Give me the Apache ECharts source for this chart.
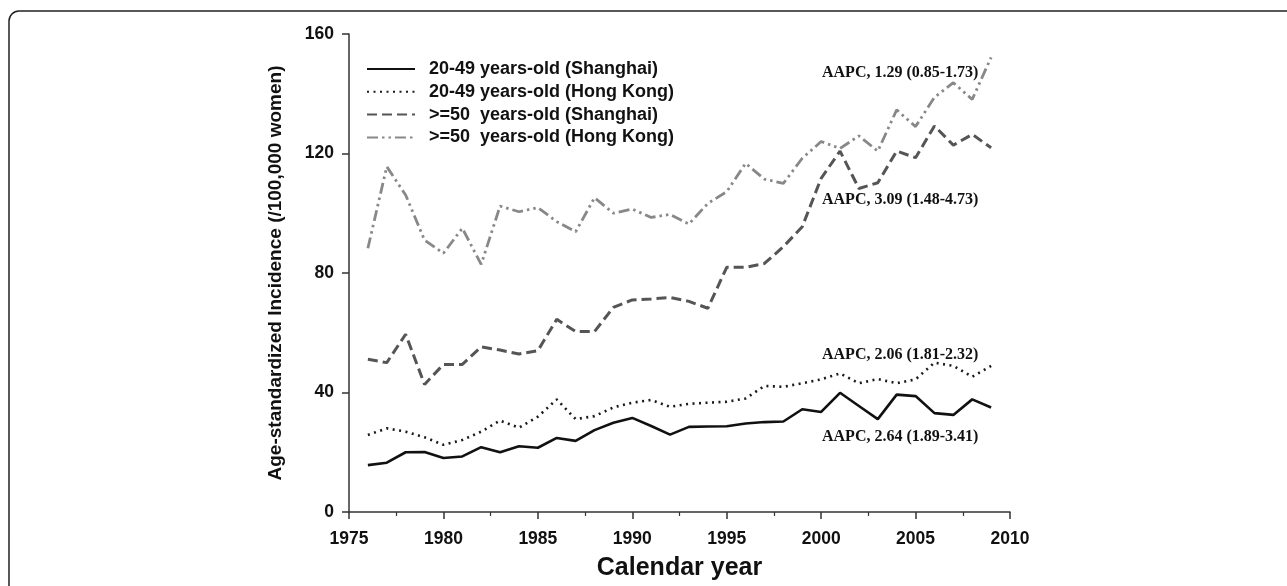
<!DOCTYPE html>
<html>
<head>
<meta charset="utf-8">
<script src="https://cdn.jsdelivr.net/npm/echarts@6/dist/echarts.min.js"></script>
<style>
html,body{margin:0;padding:0;background:#fff;}
#chart{width:1287px;height:586px;}
</style>
</head>
<body>
<div id="chart"></div>
<script>
var years = [1976,1977,1978,1979,1980,1981,1982,1983,1984,1985,1986,1987,1988,1989,1990,1991,1992,1993,1994,1995,1996,1997,1998,1999,2000,2001,2002,2003,2004,2005,2006,2007,2008,2009];
var young_SH = [15.7,16.5,20.0,20.1,18.1,18.6,21.7,20.0,22.0,21.5,24.8,23.8,27.4,29.9,31.5,28.8,25.9,28.5,28.6,28.7,29.6,30.1,30.3,34.4,33.5,39.9,35.5,31.1,39.3,38.8,33.1,32.5,37.7,35.0];
var young_HK = [25.8,28.0,26.9,25.0,22.5,24.1,26.9,30.6,28.2,31.9,37.7,31.1,32.1,35.0,36.6,37.5,35.2,36.2,36.6,36.9,38.0,42.2,41.9,43.1,44.4,46.4,43.1,44.5,43.1,44.4,50.0,48.9,45.3,48.9];
var old_SH = [51.1,50.0,59.5,42.7,49.4,49.4,55.3,54.2,52.9,54.0,64.5,60.4,60.4,68.5,71.0,71.3,71.8,70.5,68.2,81.9,81.9,83.2,88.8,95.5,111.7,120.8,108.3,110.2,120.8,118.6,129.2,122.8,126.4,121.9];
var old_HK = [88.3,115.6,106.1,91.0,86.6,95.0,82.9,102.4,100.5,101.9,97.2,93.8,105.2,100.0,101.4,98.6,99.6,96.4,103.3,107.2,116.7,111.4,110.0,118.4,124.0,121.7,125.9,120.8,134.6,129.0,138.8,143.7,138.1,152.2];
var seriesNames = ['20-49 years-old (Shanghai)','20-49 years-old (Hong Kong)','>=50  years-old (Shanghai)','>=50  years-old (Hong Kong)'];
var aapcLabels = ['AAPC, 1.29 (0.85-1.73)','AAPC, 3.09 (1.48-4.73)','AAPC, 2.06 (1.81-2.32)','AAPC, 2.64 (1.89-3.41)'];
var yTicks = [0,40,80,120,160];
var xTicks = [1975,1980,1985,1990,1995,2000,2005,2010];

function pairs(vals){ return years.map(function(y,i){ return [y, vals[i]]; }); }

var chart = echarts.init(document.getElementById('chart'), null, {renderer:'canvas'});
var styles = [
  {color:'#111111', width:2.6, type:'solid'},
  {color:'#1a1a1a', width:2.6, type:[2,4.5]},
  {color:'#555555', width:3, type:[10,5]},
  {color:'#888888', width:2.8, type:[11,4,2.5,4,2.5,4]}
];
var dataSets = [young_SH, young_HK, old_SH, old_HK];
var series = dataSets.map(function(d,i){
  return {
    name: seriesNames[i], type:'line', data: pairs(d), symbol:'none', showSymbol:false,
    lineStyle:{color:styles[i].color, width:styles[i].width, type:styles[i].type},
    itemStyle:{color:styles[i].color}, z: 4-i, silent:true, animation:false
  };
});
var SANS = '"Liberation Sans",Arial,sans-serif';
var txt = {fontFamily:'"Liberation Serif","Times New Roman",serif', fontWeight:'bold', fontSize:16, fill:'#111', verticalAlign:'middle', align:'left'};
var annPos = [[822,73],[822,200],[822,355],[822,437]];
var graphics = [{type:'rect', shape:{x:9, y:11, width:1400, height:800, r:10}, style:{fill:'none', stroke:'#222', lineWidth:1.5}, silent:true, z:-10}];
aapcLabels.forEach(function(t,i){
  graphics.push({type:'text', x:annPos[i][0], y:annPos[i][1], style:Object.assign({text:t}, txt), silent:true});
});

chart.setOption({
  animation:false,
  backgroundColor:'#fff',
  grid:{left:349, right:277, top:34, bottom:74, containLabel:false, outerBoundsMode:'none'},
  legend:{
    show:true, orient:'vertical', left:361, top:55, itemWidth:48, itemHeight:14, itemGap:4.8,
    data: seriesNames,
    itemStyle:{opacity:0},
    textStyle:{fontFamily:SANS, fontWeight:'bold', fontSize:18, lineHeight:18, color:'#111', padding:[0,0,0,9]},
    selectedMode:false
  },
  xAxis:{
    type:'value', min:1975, max:2010, interval:5,
    name:'Calendar year', nameLocation:'middle', nameGap:44,
    nameTextStyle:{fontFamily:SANS, fontWeight:'bold', fontSize:25, color:'#111'},
    axisLine:{show:true, lineStyle:{color:'#333', width:1.5}},
    axisTick:{show:true, length:7, inside:false, lineStyle:{color:'#333', width:1.5}},
    minorTick:{show:true, splitNumber:2, length:4, lineStyle:{color:'#333', width:1.2}},
    axisLabel:{margin:18, fontFamily:SANS, fontWeight:'bold', fontSize:17.5, color:'#111', formatter:function(v){return String(v);}},
    splitLine:{show:false}
  },
  yAxis:{
    type:'value', min:0, max:160, interval:40,
    name:'Age-standardized Incidence (/100,000 women)', nameLocation:'middle', nameGap:64,
    nameTextStyle:{fontFamily:SANS, fontWeight:'bold', fontSize:19, color:'#111'},
    axisLine:{show:true, lineStyle:{color:'#333', width:1.5}},
    axisTick:{show:true, length:7, inside:false, lineStyle:{color:'#333', width:1.5}},
    axisLabel:{margin:15, fontFamily:SANS, fontWeight:'bold', fontSize:17.5, color:'#111'},
    splitLine:{show:false}
  },
  graphic: graphics,
  series: series
});
</script>
</body>
</html>
